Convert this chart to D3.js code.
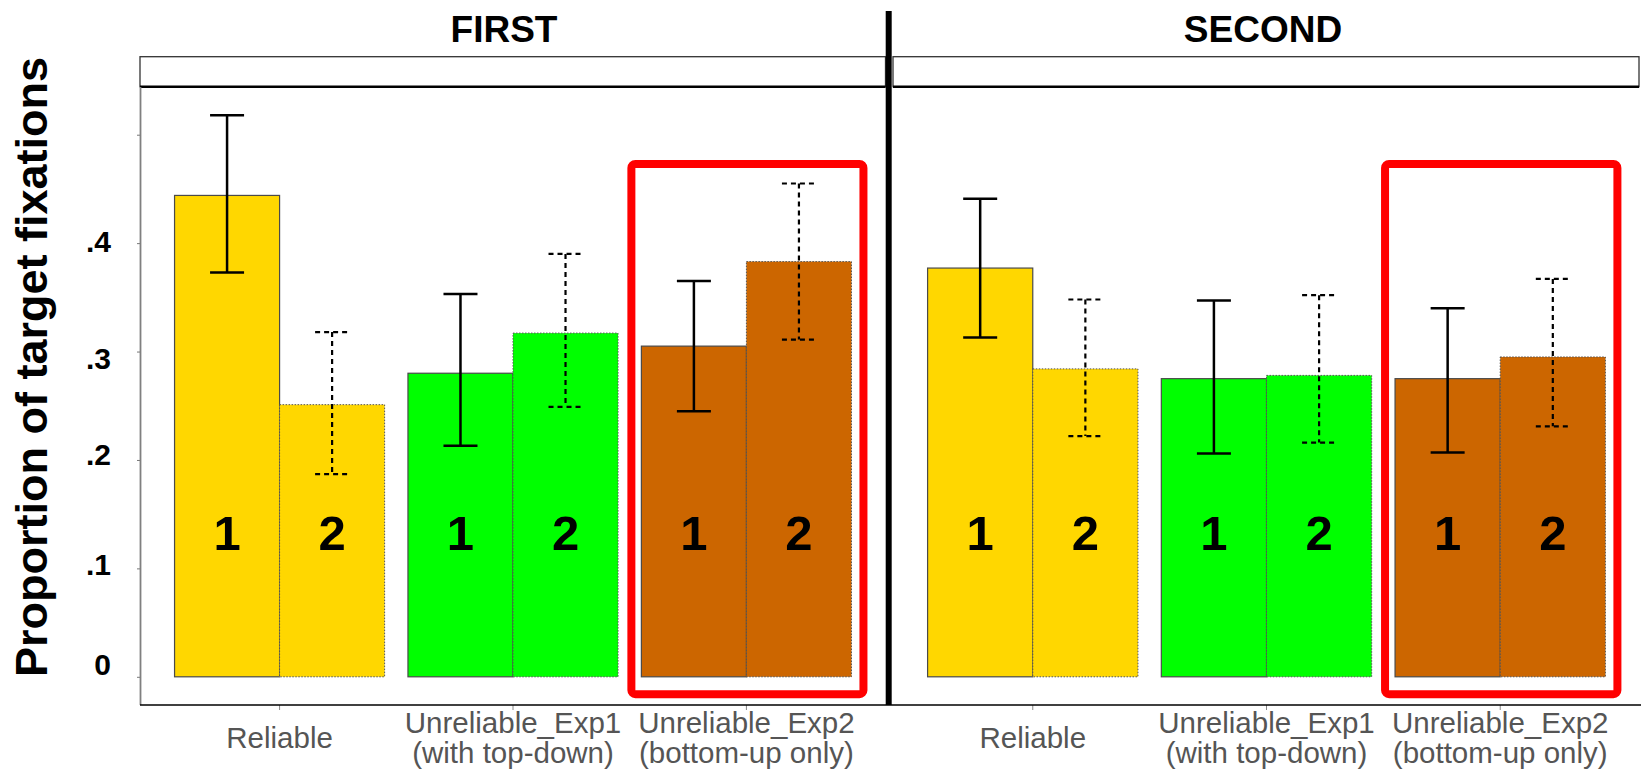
<!DOCTYPE html>
<html>
<head>
<meta charset="utf-8">
<script src="https://cdn.jsdelivr.net/npm/d3@7"></script>
<style>
  html, body { margin: 0; padding: 0; background: #fff; }
  svg { display: block; font-family: "Liberation Sans", Arial, sans-serif; }
</style>
</head>
<body>
<svg id="chart" width="1641" height="769"></svg>
<script>
// ---- data ----
const panels = ["FIRST", "SECOND"];
const categories = ["Reliable", "Unreliable_Exp1", "Unreliable_Exp2"];
const categoryNotes = ["", "(with top-down)", "(bottom-up only)"];
const series = ["1", "2"];
const categoryColors = ["#FFD700", "#00FF00", "#CC6600"];
const highlighted = "Unreliable_Exp2";

// mean proportion per category, [series 1, series 2]
const meanFirst  = [[0.444, 0.251], [0.280, 0.317], [0.305, 0.383]];
const lowerFirst = [[0.373, 0.187], [0.213, 0.249], [0.245, 0.311]];
const upperFirst = [[0.518, 0.318], [0.353, 0.390], [0.365, 0.455]];

const meanSecond  = [[0.377, 0.284], [0.275, 0.278], [0.275, 0.295]];
const lowerSecond = [[0.313, 0.222], [0.206, 0.216], [0.207, 0.231]];
const upperSecond = [[0.441, 0.348], [0.347, 0.352], [0.340, 0.367]];

const yTickValues = [0, 0.1, 0.2, 0.3, 0.4, 0.5];
const yTickLabels = ["0", ".1", ".2", ".3", ".4", ""];

// ---- layout ----
const svg = d3.select("#chart");
const plotTop = 87, plotBottom = 705;
const panelRanges = [[140, 886], [893, 1640]];
const titleX = [504, 1263];
const stripTop = 56.7, stripBottom = 86.7;
// vertical nudges (px) of the y tick labels, in tick order
const yLabelNudge = [-12, -3, -5, 7, -1, 0];

const y = d3.scaleLinear().domain([-0.026, 0.544]).range([plotBottom, plotTop]);

const panelData = [
  { mean: meanFirst, lower: lowerFirst, upper: upperFirst },
  { mean: meanSecond, lower: lowerSecond, upper: upperSecond }
];

const capW = 34;
const numberLabelValue = 0.117;

panels.forEach((name, p) => {
  const [x0, x1] = panelRanges[p];
  const x = d3.scaleBand().domain(categories).range([x0, x1])
    .paddingInner(0.1).paddingOuter(0.148);
  const sub = d3.scaleBand().domain(series).range([0, x.bandwidth()]);
  const g = svg.append("g");
  const d = panelData[p];

  // panel title
  g.append("text")
    .attr("x", titleX[p]).attr("y", 42)
    .attr("text-anchor", "middle")
    .attr("font-size", 37).attr("font-weight", "bold")
    .text(name);

  // strip box
  const stripRight = p === 0 ? x1 - 0.5 : x1 - 1;
  g.append("rect")
    .attr("x", x0).attr("y", stripTop)
    .attr("width", stripRight - x0).attr("height", stripBottom - stripTop)
    .attr("fill", "#fff").attr("stroke", "#333").attr("stroke-width", 1.3);
  g.append("line")
    .attr("x1", x0).attr("x2", stripRight)
    .attr("y1", stripBottom).attr("y2", stripBottom)
    .attr("stroke", "#000").attr("stroke-width", 2.5);

  // bars
  const rows = [];
  categories.forEach((c, i) => {
    series.forEach((s, j) => {
      rows.push({ c, i, s, j, v: d.mean[i][j], lo: d.lower[i][j], hi: d.upper[i][j] });
    });
  });

  g.selectAll("rect.bar").data(rows).enter().append("rect")
    .attr("class", "bar")
    .attr("x", r => x(r.c) + sub(r.s))
    .attr("y", r => y(r.v))
    .attr("width", sub.bandwidth())
    .attr("height", r => y(0) - y(r.v))
    .attr("fill", r => categoryColors[r.i])
    .attr("stroke", r => r.j === 0 ? "#4a4a4a" : "#555")
    .attr("stroke-width", r => r.j === 0 ? 1.2 : 1)
    .attr("stroke-dasharray", r => r.j === 0 ? null : "1.5,1.5");

  // bar numbers
  g.selectAll("text.num").data(rows).enter().append("text")
    .attr("class", "num")
    .attr("x", r => x(r.c) + sub(r.s) + sub.bandwidth() / 2)
    .attr("y", y(numberLabelValue))
    .attr("text-anchor", "middle")
    .attr("font-size", 49).attr("font-weight", "bold")
    .text(r => r.s);

  // error bars
  const eb = g.selectAll("g.err").data(rows).enter().append("g")
    .attr("class", "err")
    .attr("transform", r => `translate(${x(r.c) + sub(r.s) + sub.bandwidth() / 2},0)`)
    .attr("stroke", "#000")
    .attr("stroke-width", r => r.j === 0 ? 2.5 : 2.2)
    .attr("stroke-dasharray", r => r.j === 0 ? null : "5,4");
  eb.append("line").attr("x1", 0).attr("x2", 0)
    .attr("y1", r => y(r.hi)).attr("y2", r => y(r.lo));
  eb.append("line").attr("x1", -capW / 2).attr("x2", capW / 2)
    .attr("y1", r => y(r.hi)).attr("y2", r => y(r.hi));
  eb.append("line").attr("x1", -capW / 2).attr("x2", capW / 2)
    .attr("y1", r => y(r.lo)).attr("y2", r => y(r.lo));

  // highlight frame around one condition
  g.append("rect")
    .attr("x", x(highlighted) - 10)
    .attr("y", y(0.473))
    .attr("width", x.bandwidth() + 22)
    .attr("height", y(-0.016) - y(0.473))
    .attr("rx", 4)
    .attr("fill", "none").attr("stroke", "#FF0000").attr("stroke-width", 8);

  // x axis
  const xAxis = g.append("g")
    .attr("transform", `translate(0,${plotBottom})`)
    .call(d3.axisBottom(x).tickSize(5).tickFormat(""));
  xAxis.select(".domain").remove();
  xAxis.selectAll(".tick line").attr("stroke", "#888").attr("stroke-width", 1);
  xAxis.selectAll(".tick").each(function (c, i) {
    const t = d3.select(this).append("text")
      .attr("fill", "#555").attr("font-size", 29.5).attr("text-anchor", "middle");
    if (categoryNotes[i]) {
      t.append("tspan").attr("x", 0).attr("y", 28).text(c);
      t.append("tspan").attr("x", 0).attr("y", 58).text(categoryNotes[i]);
    } else {
      t.append("tspan").attr("x", 0).attr("y", 43).text(c);
    }
  });
});

// y axis
const yAxis = svg.append("g")
  .attr("transform", `translate(${panelRanges[0][0]},0)`)
  .call(d3.axisLeft(y).tickValues(yTickValues).tickSize(3).tickPadding(26)
    .tickFormat((v, i) => yTickLabels[i]));
yAxis.select(".domain").remove();
yAxis.selectAll(".tick line").attr("stroke", "#777");
yAxis.selectAll(".tick text")
  .attr("font-size", 30).attr("font-weight", "bold").attr("fill", "#000")
  .attr("font-family", "'Liberation Sans', Arial, sans-serif")
  .attr("transform", (v, i) => `translate(0,${yLabelNudge[i]})`);

// frame: left axis line and shared bottom line
svg.append("line")
  .attr("x1", panelRanges[0][0] + 0.5).attr("x2", panelRanges[0][0] + 0.5)
  .attr("y1", plotTop).attr("y2", plotBottom)
  .attr("stroke", "#808080").attr("stroke-width", 1.8);
svg.append("line")
  .attr("x1", panelRanges[0][0]).attr("x2", 1641)
  .attr("y1", plotBottom).attr("y2", plotBottom)
  .attr("stroke", "#000").attr("stroke-width", 1.5);

// divider between the two panels
svg.append("line")
  .attr("x1", 888.7).attr("x2", 888.7)
  .attr("y1", 11).attr("y2", plotBottom)
  .attr("stroke", "#000").attr("stroke-width", 6);

// y title
svg.append("text")
  .attr("transform", `translate(47,367) rotate(-90)`)
  .attr("text-anchor", "middle")
  .attr("font-size", 45).attr("font-weight", "bold")
  .text("Proportion of target fixations");
</script>
</body>
</html>
